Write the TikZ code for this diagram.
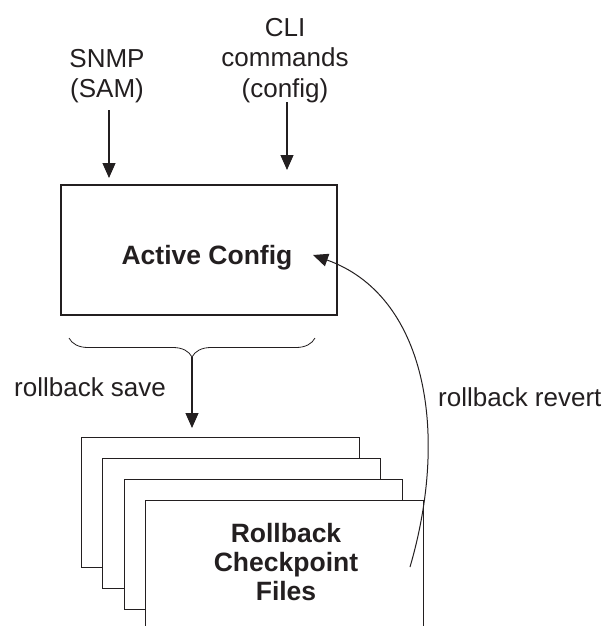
\documentclass[tikz,border=0pt]{standalone}
\usepackage{fontspec}
\setmainfont{Liberation Sans}
\usetikzlibrary{arrows.meta,decorations.pathreplacing}
\definecolor{ink}{HTML}{231F20}
\begin{document}
\begin{tikzpicture}[x=1pt,y=-1pt,
  lbl/.style={font=\fontsize{26}{30.5}\selectfont, text=ink, inner sep=0pt},
  blbl/.style={font=\fontsize{26.5}{29}\selectfont\bfseries, text=ink, inner sep=0pt},
  box/.style={draw=ink, line width=1.1pt, fill=white, rectangle, inner sep=0pt},
  arr/.style={draw=ink, line width=1.1pt, -{Triangle[length=15pt,width=13pt]}}]
\useasboundingbox (0,0) rectangle (607,626);
\clip (0,0) rectangle (607,626);
% input labels
\node[lbl, anchor=north, align=center] (snmp) at (107,49) {SNMP\\(SAM)};
\node[lbl, anchor=north, align=center] (cli) at (285,18) {CLI\\commands\\(config)};
% active config box
\node[box, minimum width=276pt, minimum height=130pt] (ac) at (199,250) {};
\node[blbl, anchor=base] (aclabel) at (207,264) {Active Config};
% input arrows
\coordinate (s1) at (109,110);
\coordinate (s2) at (109,178);
\coordinate (c1) at (287,102);
\coordinate (c2) at (287,170);
\draw[arr] (s1) -- (s2);
\draw[arr] (c1) -- (c2);
% brace
\coordinate (bl) at (69,338);
\coordinate (br) at (315,338);
\coordinate (bt) at (192,357);
\draw[ink, line width=0.8pt, decorate, decoration={brace, amplitude=19pt, mirror}] (bl) -- (br);
% pages
\node[box, minimum width=278pt, minimum height=130pt, anchor=north west] (p1) at (81,437) {};
\node[box, minimum width=278pt, minimum height=130pt, anchor=north west] (p2) at (102,458) {};
\node[box, minimum width=278pt, minimum height=130pt, anchor=north west] (p3) at (124,479) {};
\node[box, minimum width=278pt, minimum height=130pt, anchor=north west] (p4) at (145,500) {};
\node[blbl, anchor=north, align=center] (rcf) at (286,523) {Rollback\\Checkpoint\\Files};
% save arrow
\draw[arr] (bt) -- ([yshift=9pt]bt |- p1.north);
\node[lbl, anchor=base west] (save) at (14,396) {rollback save};
% revert curve
\coordinate (r1) at (410,567);
\coordinate (r2) at (313,255);
\draw[arr, line width=1pt] (r1) .. controls (450,430) and (425,295) .. (r2);
\node[lbl, anchor=base west] (revert) at (438,406) {rollback revert};
\end{tikzpicture}
\end{document}
